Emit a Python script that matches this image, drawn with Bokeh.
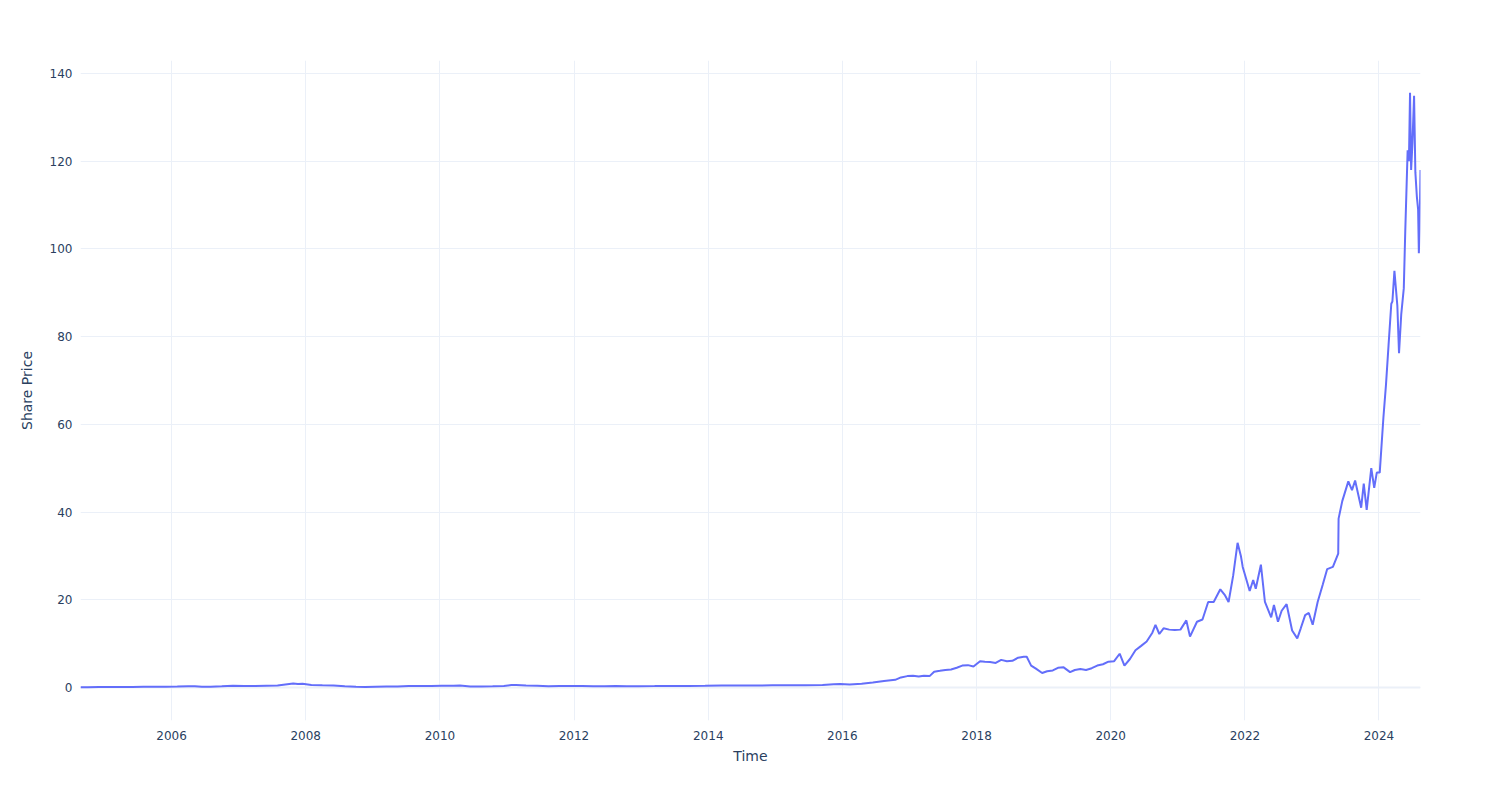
import pandas as pd
from bokeh.plotting import figure
from bokeh.models import Range1d, FixedTicker, Span, CustomJSTickFormatter
from bokeh.embed import file_html
from bokeh.resources import INLINE

dates = [
    "2004-08-23", "2004-10-01", "2004-12-01", "2005-02-01", "2005-04-01", "2005-06-01",
    "2005-08-01", "2005-10-01", "2005-12-01", "2006-02-01", "2006-04-01", "2006-05-08",
    "2006-06-15", "2006-08-01", "2006-10-01", "2006-12-01", "2007-02-01", "2007-04-01",
    "2007-06-01", "2007-08-01", "2007-10-25", "2007-11-20", "2007-12-15", "2008-02-01",
    "2008-04-01", "2008-06-01", "2008-08-01", "2008-10-01", "2008-11-20", "2009-01-15",
    "2009-03-15", "2009-05-15", "2009-07-15", "2009-09-15", "2009-11-15", "2010-01-10",
    "2010-03-15", "2010-04-20", "2010-06-15", "2010-08-15", "2010-10-15", "2010-12-15",
    "2011-01-25", "2011-02-20", "2011-04-15", "2011-06-15", "2011-08-15", "2011-10-15",
    "2011-12-15", "2012-02-15", "2012-04-15", "2012-06-15", "2012-08-15", "2012-10-15",
    "2012-12-15", "2013-03-15", "2013-06-15", "2013-09-15", "2013-12-15", "2014-03-15",
    "2014-06-15", "2014-09-15", "2014-12-15", "2015-03-15", "2015-06-15", "2015-09-15",
    "2015-11-15", "2015-12-20", "2016-02-10", "2016-04-15", "2016-06-15", "2016-08-15",
    "2016-10-15", "2016-11-15", "2016-12-20", "2017-01-20", "2017-02-20", "2017-03-20",
    "2017-04-20", "2017-05-15", "2017-06-15", "2017-07-15", "2017-08-15", "2017-09-15",
    "2017-10-15", "2017-11-15", "2017-12-15", "2018-01-20", "2018-02-15", "2018-03-15",
    "2018-04-15", "2018-05-15", "2018-06-15", "2018-07-15", "2018-08-15", "2018-09-15",
    "2018-10-01", "2018-10-25", "2018-11-20", "2018-12-24", "2019-01-20", "2019-02-20",
    "2019-03-20", "2019-04-20", "2019-05-25", "2019-06-20", "2019-07-20", "2019-08-20",
    "2019-09-20", "2019-10-20", "2019-11-20", "2019-12-20", "2020-01-20", "2020-02-19",
    "2020-03-16", "2020-04-15", "2020-05-15", "2020-06-15", "2020-07-15", "2020-08-15",
    "2020-09-01", "2020-09-22", "2020-10-15", "2020-11-15", "2020-12-15", "2021-01-15",
    "2021-02-16", "2021-03-08", "2021-04-15", "2021-05-15", "2021-06-15", "2021-07-15",
    "2021-08-20", "2021-09-15", "2021-10-04", "2021-10-29", "2021-11-22", "2021-12-10",
    "2021-12-20", "2022-01-27", "2022-02-15", "2022-03-01", "2022-03-29", "2022-04-20",
    "2022-05-24", "2022-06-08", "2022-06-30", "2022-07-20", "2022-08-16", "2022-09-15",
    "2022-10-13", "2022-11-01", "2022-11-25", "2022-12-15", "2023-01-05", "2023-02-01",
    "2023-03-01", "2023-03-25", "2023-04-25", "2023-05-24", "2023-05-26", "2023-06-15",
    "2023-07-18", "2023-08-07", "2023-08-24", "2023-09-26", "2023-10-10", "2023-10-26",
    "2023-11-20", "2023-12-06", "2023-12-20", "2024-01-05", "2024-01-25", "2024-02-08",
    "2024-02-22", "2024-03-08", "2024-03-14", "2024-03-25", "2024-04-10", "2024-04-19",
    "2024-05-01", "2024-05-15", "2024-05-23", "2024-06-05", "2024-06-12", "2024-06-18",
    "2024-06-24", "2024-07-01", "2024-07-10", "2024-07-17", "2024-07-25", "2024-08-01",
    "2024-08-05", "2024-08-09", "2024-08-14",
]
prices = [
    0.07, 0.08, 0.12, 0.14, 0.11, 0.14,
    0.16, 0.17, 0.19, 0.23, 0.30, 0.31,
    0.18, 0.20, 0.28, 0.38, 0.33, 0.35,
    0.42, 0.45, 0.90, 0.78, 0.85, 0.55,
    0.51, 0.48, 0.30, 0.20, 0.14, 0.19,
    0.23, 0.25, 0.33, 0.37, 0.33, 0.40,
    0.42, 0.44, 0.25, 0.22, 0.28, 0.37,
    0.58, 0.55, 0.47, 0.39, 0.31, 0.36,
    0.34, 0.36, 0.31, 0.31, 0.34, 0.30,
    0.30, 0.32, 0.35, 0.37, 0.39, 0.44,
    0.46, 0.46, 0.49, 0.51, 0.50, 0.60,
    0.75, 0.82, 0.70, 0.88, 1.15, 1.50,
    1.75, 2.30, 2.60, 2.70, 2.50, 2.70,
    2.60, 3.60, 3.80, 4.00, 4.10, 4.50,
    5.00, 5.10, 4.80, 6.00, 5.90, 5.80,
    5.60, 6.30, 6.00, 6.10, 6.80, 7.00,
    7.00, 5.00, 4.30, 3.30, 3.70, 3.90,
    4.50, 4.60, 3.50, 4.00, 4.20, 4.00,
    4.40, 5.00, 5.30, 5.90, 6.00, 7.70,
    5.00, 6.50, 8.50, 9.50, 10.50, 12.50,
    14.30, 12.20, 13.50, 13.20, 13.10, 13.20,
    15.30, 11.60, 15.00, 15.50, 19.50, 19.50,
    22.40, 21.00, 19.50, 25.50, 33.00, 30.00,
    27.50, 22.00, 24.50, 22.50, 28.00, 19.50,
    16.00, 18.80, 15.00, 17.50, 19.00, 13.00,
    11.20, 13.50, 16.50, 17.00, 14.30, 19.50,
    23.50, 27.00, 27.50, 30.50, 38.50, 42.50,
    47.00, 45.00, 47.20, 41.00, 46.50, 40.50,
    50.00, 45.50, 49.00, 49.00, 61.50, 69.00,
    78.00, 87.50, 88.00, 95.00, 87.00, 76.20,
    85.00, 91.00, 104.00, 122.50, 120.00, 135.60,
    118.00, 124.00, 134.90, 117.50, 112.00, 109.00,
    99.00, 104.50, 118.00,
]
tick_years = [2006, 2008, 2010, 2012, 2014, 2016, 2018, 2020, 2022, 2024]
y_ticks = [0, 20, 40, 60, 80, 100, 120, 140]

x = pd.to_datetime(dates)
tick_ms = [pd.Timestamp(f"{yr}-01-01").value // 10**6 for yr in tick_years]

FONT = "DejaVu Sans"
TXT = "#2a3f5f"
GRID = "#EBF0F8"

p = figure(
    width=1500, height=800, x_axis_type="datetime",
    output_backend="svg", toolbar_location=None,
    frame_width=1340, frame_height=660,
    min_border_left=80, min_border_right=80, min_border_top=60, min_border_bottom=80,
    x_range=Range1d(x[0], x[-1]), y_range=Range1d(-7.52, 142.96),
)
p.outline_line_color = None
p.background_fill_color = "white"
p.border_fill_color = "white"

p.line(x, prices, line_color="#636efa", line_width=2)

zero = Span(location=0, dimension="width", line_color=GRID, line_width=2, level="underlay")
p.add_layout(zero)

p.xaxis.ticker = FixedTicker(ticks=tick_ms)
p.xaxis.formatter = CustomJSTickFormatter(code="return new Date(tick).getUTCFullYear().toString();")
p.yaxis.ticker = FixedTicker(ticks=y_ticks)

for ax in (p.xaxis, p.yaxis):
    ax.axis_line_color = None
    ax.major_tick_line_color = None
    ax.minor_tick_line_color = None
    ax.major_label_text_font = FONT
    ax.major_label_text_font_size = "12px"
    ax.major_label_text_color = TXT
    ax.axis_label_text_font = FONT
    ax.axis_label_text_font_size = "14px"
    ax.axis_label_text_color = TXT
    ax.axis_label_text_font_style = "normal"

p.xaxis.axis_label = "Time"
p.yaxis.axis_label = "Share Price"
p.xaxis.major_label_standoff = 4
p.yaxis.major_label_standoff = 2
p.xaxis.axis_label_standoff = 5
p.yaxis.axis_label_standoff = 12

p.xgrid.grid_line_color = GRID
p.ygrid.grid_line_color = GRID
p.xgrid.grid_line_width = 1
p.ygrid.grid_line_width = 1

open("out.html", "w").write(file_html(p, INLINE))
